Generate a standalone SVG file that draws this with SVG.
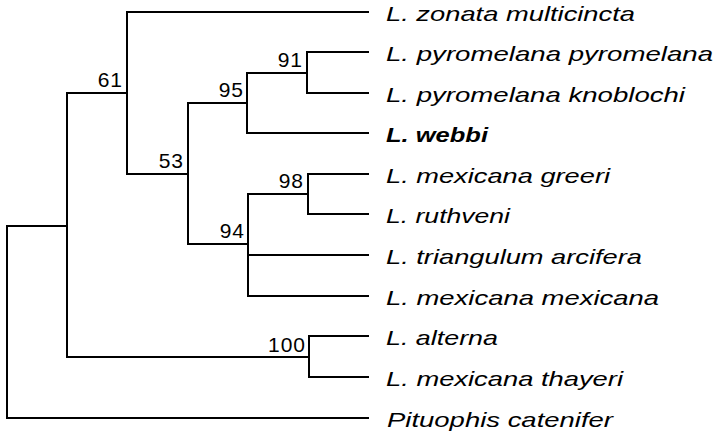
<svg xmlns="http://www.w3.org/2000/svg" width="718" height="437" viewBox="0 0 718 437">
<style>
.br{fill:none;stroke:#000;stroke-width:2;stroke-linecap:square}
.tx{font-family:"Liberation Sans",Arial,sans-serif;font-size:21px;font-style:italic;fill:#000}
.bd{font-weight:bold}
.sv{font-family:"Liberation Sans",Arial,sans-serif;font-size:21px;fill:#000;text-anchor:end;letter-spacing:1px}
</style>
<rect width="718" height="437" fill="#fff"/>
<g id="connectors">
<path class="br" d="M7,226V418H368"/>
<path class="br" d="M7,226H67"/>
<path class="br" d="M67,93V357"/>
<path class="br" d="M67,93H127"/>
<path class="br" d="M67,357H309"/>
<path class="br" d="M127,12V174"/>
<path class="br" d="M127,12H368"/>
<path class="br" d="M127,174H188"/>
<path class="br" d="M188,103V244"/>
<path class="br" d="M188,103H247"/>
<path class="br" d="M188,244H248"/>
<path class="br" d="M247,73V133H368"/>
<path class="br" d="M247,73H307"/>
<path class="br" d="M307,52V93H368"/>
<path class="br" d="M307,52H368"/>
<path class="br" d="M248,194V296H368"/>
<path class="br" d="M248,255H368"/>
<path class="br" d="M248,194H308"/>
<path class="br" d="M308,174V214H368"/>
<path class="br" d="M308,174H368"/>
<path class="br" d="M309,336V377H368"/>
<path class="br" d="M309,336H368"/>
</g>
<g id="t-zonata"><text class="tx" x="386" y="21" textLength="249" lengthAdjust="spacingAndGlyphs">L. zonata multicincta</text></g>
<g id="t-pyro-pyro"><text class="tx" x="386" y="61" textLength="327" lengthAdjust="spacingAndGlyphs">L. pyromelana pyromelana</text></g>
<g id="t-pyro-knob"><text class="tx" x="386" y="102" textLength="299" lengthAdjust="spacingAndGlyphs">L. pyromelana knoblochi</text></g>
<g id="t-webbi"><text class="tx bd" x="386" y="142" textLength="102" lengthAdjust="spacingAndGlyphs">L. webbi</text></g>
<g id="t-mex-greeri"><text class="tx" x="386" y="183" textLength="224" lengthAdjust="spacingAndGlyphs">L. mexicana greeri</text></g>
<g id="t-ruthveni"><text class="tx" x="386" y="223" textLength="124" lengthAdjust="spacingAndGlyphs">L. ruthveni</text></g>
<g id="t-triangulum"><text class="tx" x="386" y="264" textLength="256" lengthAdjust="spacingAndGlyphs">L. triangulum arcifera</text></g>
<g id="t-mex-mex"><text class="tx" x="386" y="305" textLength="273" lengthAdjust="spacingAndGlyphs">L. mexicana mexicana</text></g>
<g id="t-alterna"><text class="tx" x="386" y="345" textLength="112" lengthAdjust="spacingAndGlyphs">L. alterna</text></g>
<g id="t-thayeri"><text class="tx" x="386" y="386" textLength="237" lengthAdjust="spacingAndGlyphs">L. mexicana thayeri</text></g>
<g id="t-pituophis"><text class="tx" x="387" y="427" textLength="226" lengthAdjust="spacingAndGlyphs">Pituophis catenifer</text></g>
<g id="n61"><text class="sv" x="123" y="87">61</text></g>
<g id="n53"><text class="sv" x="184" y="168">53</text></g>
<g id="n95"><text class="sv" x="244" y="97">95</text></g>
<g id="n91"><text class="sv" x="303" y="67">91</text></g>
<g id="n98"><text class="sv" x="304" y="188">98</text></g>
<g id="n94"><text class="sv" x="245" y="238">94</text></g>
<g id="n100"><text class="sv" x="306" y="352">100</text></g>
</svg>
